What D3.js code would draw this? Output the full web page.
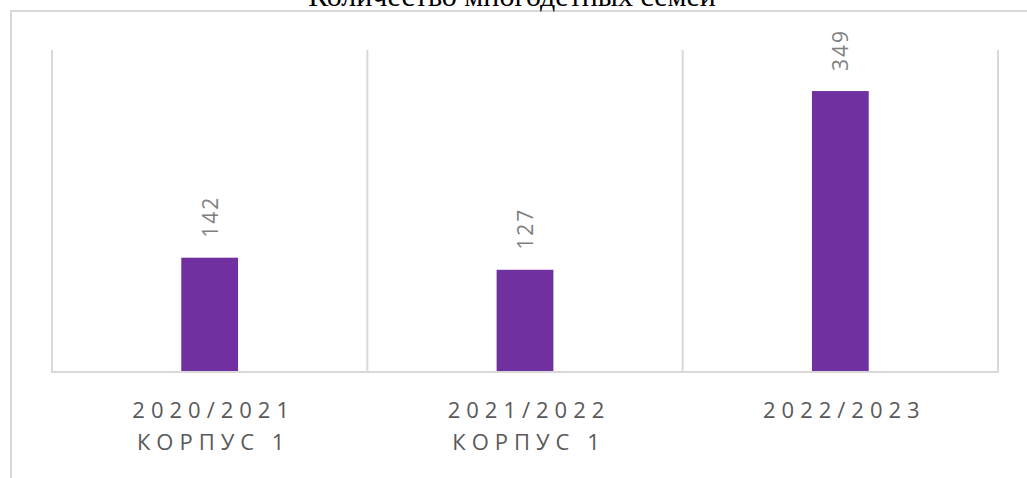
<!DOCTYPE html>
<html>
<head>
  <meta charset="utf-8">
  <script src="https://d3js.org/d3.v7.min.js"></script>
  <style>
    body { margin: 0; background: #fff; }
    .cat-label { font-family: "Open Sans", sans-serif; font-size: 22px; fill: #595959; letter-spacing: 6px; }
    .val-label { font-family: "Open Sans", sans-serif; font-size: 21px; fill: #808080; letter-spacing: 2px; }
    .title { font-family: "Liberation Serif", "Times New Roman", serif; font-size: 30px; fill: #000; }
  </style>
</head>
<body>
  <div id="chart"></div>
  <script>
    // chart data
    const categories = ["2020/2021|КОРПУС 1", "2021/2022|КОРПУС 1", "2022/2023"];
    const values = [142, 127, 349];
    const title = "Количество многодетных семей";

    const W = 1027, H = 478;
    const plot = { left: 52, right: 998, top: 50, bottom: 372 };

    const svg = d3.select("#chart").append("svg")
      .attr("width", W)
      .attr("height", H);

    // outer frame (cut off at the top-left)
    svg.append("path")
      .attr("d", `M11,${H} L11,11 L${W},11`)
      .attr("fill", "none")
      .attr("stroke", "#d9d9d9")
      .attr("stroke-width", 2);

    svg.append("text")
      .attr("class", "title")
      .attr("x", 512)
      .attr("y", 6)
      .attr("text-anchor", "middle")
      .text(title);

    const x = d3.scaleBand()
      .domain(categories)
      .range([plot.left, plot.right])
      .padding(0);

    const y = d3.scaleLinear()
      .domain([0, 400])
      .range([plot.bottom, plot.top]);

    // category separators
    const seps = categories.map(c => x(c)).concat([plot.right]);
    svg.selectAll(".sep")
      .data(seps)
      .enter().append("line")
      .attr("x1", d => d).attr("x2", d => d)
      .attr("y1", y(400)).attr("y2", y(0))
      .attr("stroke", "#d9d9d9")
      .attr("stroke-width", 2);

    svg.append("line")
      .attr("x1", plot.left - 1).attr("x2", plot.right + 1)
      .attr("y1", y(0)).attr("y2", y(0))
      .attr("stroke", "#d9d9d9")
      .attr("stroke-width", 2);

    const barW = x.bandwidth() * 0.18;

    svg.selectAll(".bar")
      .data(values)
      .enter().append("rect")
      .attr("x", (d, i) => x(categories[i]) + x.bandwidth() / 2 - barW / 2)
      .attr("y", d => y(d))
      .attr("width", barW)
      .attr("height", d => y(0) - y(d) - 1)
      .attr("fill", "#7030a0");

    // value labels, rotated
    svg.selectAll(".val-label")
      .data(values)
      .enter().append("text")
      .attr("class", "val-label")
      .attr("transform", (d, i) => `translate(${x(categories[i]) + x.bandwidth() / 2 + 8}, ${y(d) - 20}) rotate(-90)`)
      .text(d => d);

    // category labels (two lines)
    const catG = svg.selectAll(".cat-label")
      .data(categories)
      .enter().append("text")
      .attr("class", "cat-label")
      .attr("text-anchor", "middle");

    catG.each(function(c) {
      const lines = c.split("|");
      const cx = x(c) + x.bandwidth() / 2 + 4;
      d3.select(this).selectAll("tspan")
        .data(lines)
        .enter().append("tspan")
        .attr("x", cx)
        .attr("y", (d, i) => 418 + i * 32)
        .text(d => d);
    });
  </script>
</body>
</html>
